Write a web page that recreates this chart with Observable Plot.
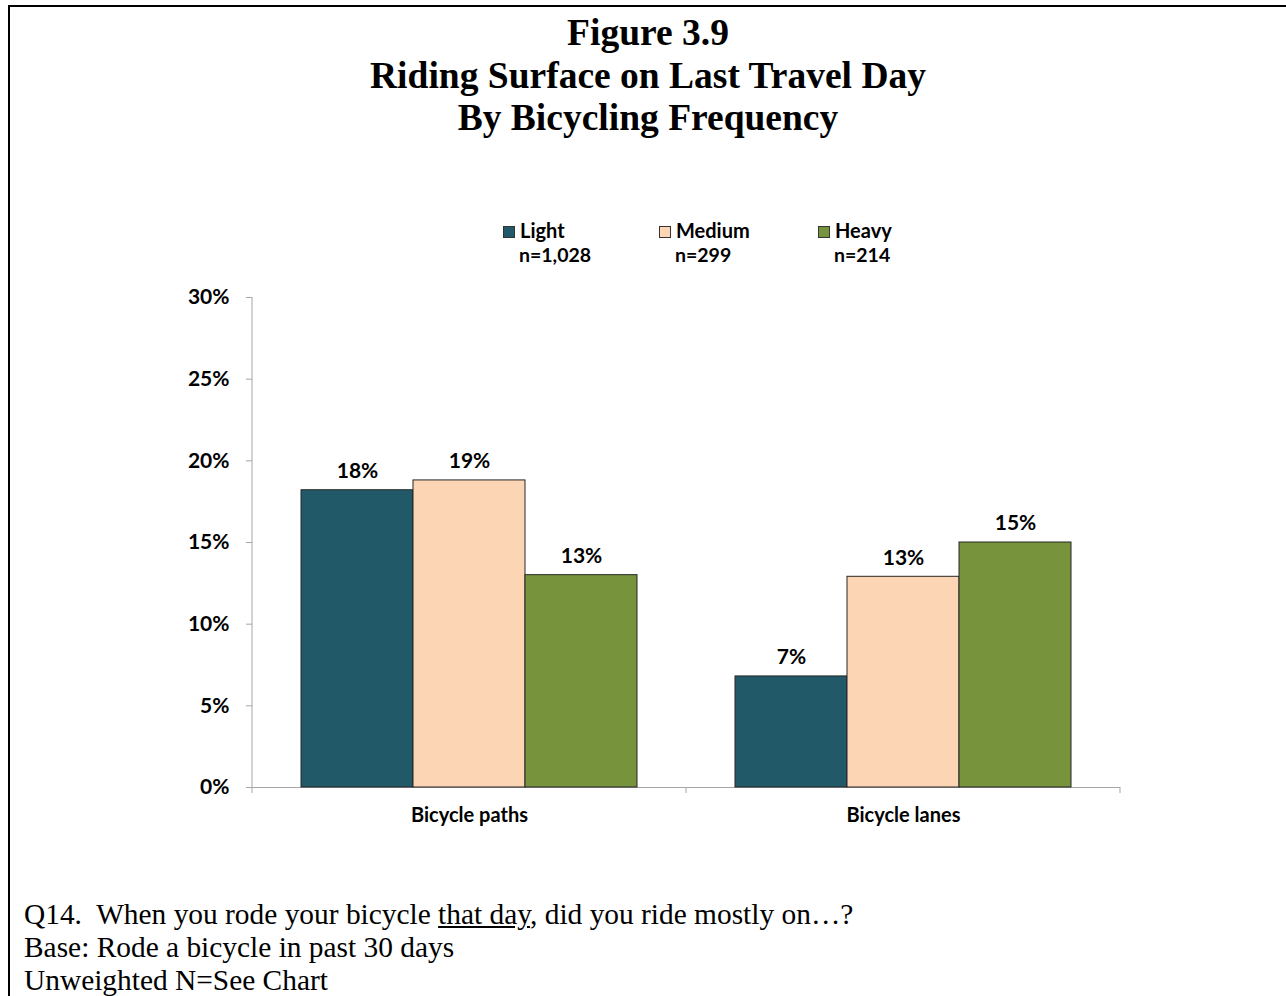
<!DOCTYPE html>
<html>
<head>
<meta charset="utf-8">
<script src="https://cdn.jsdelivr.net/npm/d3@7"></script>
<script src="https://cdn.jsdelivr.net/npm/@observablehq/plot@0.6"></script>
<style>
  html, body { margin: 0; padding: 0; background: #fff; }
  #page { position: relative; width: 1286px; height: 996px; overflow: hidden; background: #fff; }
  #border { position: absolute; left: 8px; top: 5px; width: 1300px; height: 1100px; border-left: 2px solid #000; border-top: 2px solid #000; box-sizing: border-box; }
  #title { position: absolute; left: 0; width: 1296px; top: 12px; text-align: center; font-family: "Liberation Serif", "Times New Roman", serif; font-weight: bold; font-size: 37.5px; line-height: 42.5px; color: #000; }
  #legend { position: absolute; top: 217px; left: 0; width: 1286px; height: 50px; font-family: Lato, "Open Sans", sans-serif; font-weight: bold; font-size: 20px; color: #000; }
  .item { position: absolute; top: 0; line-height: 26px; white-space: nowrap; }
  .sw { display: inline-block; width: 10px; height: 10px; border: 1px solid #333; margin-right: 5px; vertical-align: 0px; }
  .n { position: absolute; top: 26px; white-space: nowrap; font-size: 19.5px; }
  #chart { position: absolute; left: 0; top: 280px; }
  #foot { position: absolute; left: 24px; top: 898px; font-family: "Liberation Serif", "Times New Roman", serif; font-size: 29.4px; line-height: 33px; color: #000; white-space: nowrap; }
</style>
</head>
<body>
<div id="page">
  <div id="border"></div>
  <div id="title"></div>
  <div id="legend"></div>
  <div id="chart"></div>
  <div id="foot">Q14.&nbsp; When you rode your bicycle <u>that day</u>, did you ride mostly on…?<br>Base: Rode a bicycle in past 30 days<br>Unweighted N=See Chart</div>
</div>
<script>
const titleLines = ["Figure 3.9", "Riding Surface on Last Travel Day", "By Bicycling Frequency"];
const categories = ["Bicycle paths", "Bicycle lanes"];
const seriesNames = ["Light", "Medium", "Heavy"];
const seriesN = ["n=1,028", "n=299", "n=214"];
const seriesColors = ["#215968", "#FCD5B5", "#77933C"];
const light = [18.2, 6.8];
const medium = [18.8, 12.9];
const heavy = [13.0, 15.0];
const yTicks = [0, 5, 10, 15, 20, 25, 30];

document.getElementById("title").innerHTML = titleLines.join("<br>");

const legendX = [503, 659, 818];
const nX = [519, 675, 834];
const legend = document.getElementById("legend");
seriesNames.forEach((s, i) => {
  const it = document.createElement("div");
  it.className = "item";
  it.style.left = legendX[i] + "px";
  it.innerHTML = `<span class="sw" style="background:${seriesColors[i]}"></span>${s}`;
  legend.appendChild(it);
  const n = document.createElement("div");
  n.className = "n";
  n.style.left = nX[i] + "px";
  n.textContent = seriesN[i];
  legend.appendChild(n);
});

const seriesVals = [light, medium, heavy];
const data = [];
categories.forEach((c, ci) => {
  seriesNames.forEach((s, si) => {
    data.push({category: c, series: s, value: seriesVals[si][ci]});
  });
});

const W = 1286, H = 560;
const chart = Plot.plot({
  width: W,
  height: H,
  marginLeft: 252,
  marginRight: 166,
  marginTop: 17,
  marginBottom: 53,
  style: {fontFamily: "Lato, 'Open Sans', sans-serif", fontWeight: "bold", fontSize: "20px", color: "#000", background: "transparent"},
  fx: {domain: categories, padding: 0, label: null},
  x: {domain: seriesNames, paddingInner: 0, paddingOuter: 0.432, axis: null},
  y: {domain: [0, 30], ticks: yTicks, label: null},
  color: {domain: seriesNames, range: seriesColors},
  marks: [
    Plot.axisY({ticks: yTicks, tickFormat: d => d + "%", tickSize: 6, tickPadding: 17, stroke: "#a6a6a6", fontSize: 21, fontWeight: "bold", label: null}),
    Plot.axisFx({anchor: "bottom", tickSize: 0, tickPadding: 20, fontSize: 20, fontWeight: "bold", label: null}),
    Plot.ruleY([0], {stroke: "#a6a6a6", strokeWidth: 1}),
    Plot.barY(data, {fx: "category", x: "series", y: "value", fill: "series", stroke: "#262626", strokeWidth: 1, inset: 0}),
    Plot.text(data, {fx: "category", x: "series", y: "value", text: d => Math.round(d.value) + "%", dy: -19, fontSize: 21, fontWeight: "bold", fill: "#000"})
  ]
});
document.getElementById("chart").appendChild(chart);

// y-axis line and category boundary ticks, positioned from the plot's own scales
const fx = chart.scale("fx");
const yS = chart.scale("y");
const svg = d3.select(chart);
const x0 = fx.apply(categories[0]);
const y0 = yS.apply(0), yTop = yS.apply(30);
svg.append("line").attr("x1", x0).attr("x2", x0).attr("y1", yTop).attr("y2", y0).attr("stroke", "#a6a6a6");
const bounds = categories.map(c => fx.apply(c)).concat([fx.apply(categories[categories.length - 1]) + fx.bandwidth]);
bounds.forEach(b => {
  svg.append("line").attr("x1", b).attr("x2", b).attr("y1", y0).attr("y2", y0 + 6).attr("stroke", "#a6a6a6");
});
</script>
</body>
</html>
